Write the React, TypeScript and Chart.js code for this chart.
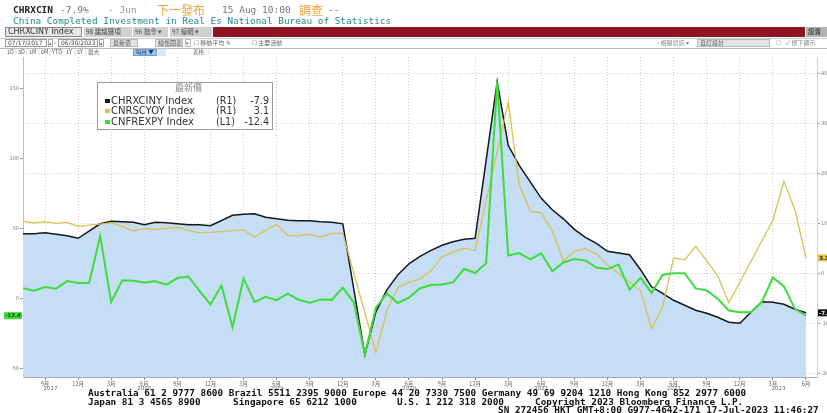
import React, { useEffect, useRef } from 'react';
import { Chart, registerables } from 'chart.js';
Chart.register(...registerables);

// Monthly categories, Jul 2017 .. Jun 2023
const months = [
  '2017-07','2017-08','2017-09','2017-10','2017-11','2017-12',
  '2018-01','2018-02','2018-03','2018-04','2018-05','2018-06','2018-07','2018-08','2018-09','2018-10','2018-11','2018-12',
  '2019-01','2019-02','2019-03','2019-04','2019-05','2019-06','2019-07','2019-08','2019-09','2019-10','2019-11','2019-12',
  '2020-01','2020-02','2020-03','2020-04','2020-05','2020-06','2020-07','2020-08','2020-09','2020-10','2020-11','2020-12',
  '2021-01','2021-02','2021-03','2021-04','2021-05','2021-06','2021-07','2021-08','2021-09','2021-10','2021-11','2021-12',
  '2022-01','2022-02','2022-03','2022-04','2022-05','2022-06','2022-07','2022-08','2022-09','2022-10','2022-11','2022-12',
  '2023-01','2023-02','2023-03','2023-04','2023-05','2023-06',
];

// CHRXCINY Index (R1) — completed investment in real estate, YoY %
const chrxciny: (number | null)[] = [
  7.9, 7.9, 8.1, 7.8, 7.5, 7.0,
  null, 9.9, 10.4, 10.3, 10.2, 9.7, 10.2, 10.1, 9.9, 9.7, 9.7, 9.5,
  null, 11.6, 11.8, 11.9, 11.2, 10.9, 10.6, 10.5, 10.5, 10.3, 10.2, 9.9,
  null, -16.3, -7.7, -3.3, -0.3, 1.9, 3.4, 4.6, 5.6, 6.3, 6.8, 7.0,
  null, 38.3, 25.6, 21.6, 18.3, 15.0, 12.7, 10.9, 8.8, 7.2, 6.0, 4.4,
  null, 3.7, 0.7, -2.7, -4.0, -5.4, -6.4, -7.4, -8.0, -8.8, -9.8, -10.0,
  null, -5.7, -5.8, -6.2, -7.2, -7.9,
];

// CNRSCYOY Index (R1) — retail sales YoY %
const cnrscyoy: (number | null)[] = [
  10.4, 10.1, 10.3, 10.0, 10.2, 9.4,
  null, null, 10.1, 9.4, 8.5, 9.0, 8.8, 9.0, 9.2, 8.6, 8.1, 8.2,
  null, null, 8.7, 7.2, 8.6, 9.8, 7.6, 7.5, 7.8, 7.2, 8.0, 8.0,
  null, null, -15.8, -7.5, -2.8, -1.8, -1.1, 0.5, 3.3, 4.3, 5.0, 4.6,
  null, null, 34.2, 17.7, 12.4, 12.1, 8.5, 2.5, 4.4, 4.9, 3.9, 1.7,
  null, null, -3.5, -11.1, -6.7, 3.1, 2.7, 5.4, 2.5, -0.5, -5.9, -1.8,
  null, null, 10.6, 18.4, 12.7, 3.1,
];

// CNFREXPY Index (L1) — exports YoY %
const cnfrexpy: (number | null)[] = [
  7.2, 5.5, 8.1, 6.9, 12.3, 10.9,
  11.1, 44.5, -2.7, 12.9, 12.6, 11.3, 12.2, 9.8, 14.5, 15.6, 5.4, -4.4,
  9.1, -20.7, 14.2, -2.7, 1.1, -1.3, 3.3, -1.0, -3.2, -0.9, -1.1, 7.6,
  -3.0, -40.0, -6.6, 3.5, -3.3, 0.5, 7.2, 9.5, 9.9, 11.4, 21.1, 18.1,
  25.0, 154.9, 30.6, 32.3, 27.9, 32.2, 19.3, 25.6, 28.1, 27.1, 22.0, 20.9,
  24.1, 6.2, 14.7, 3.9, 16.9, 17.9, 18.0, 7.1, 5.7, -0.3, -8.7, -9.9,
  -10.0, -2.5, 14.8, 8.5, -7.5, -12.4,
];

const leftTicks = [-50, 0, 50, 100, 150];
const rightTicks = [-20, -10, 0, 10, 20, 30, 40];
const quarterNames: Record<string, string> = { '03': '3月', '06': '6月', '09': '9月', '12': '12月' };

const legendRows = [
  { name: 'CHRXCINY Index', axis: '(R1)', last: '-7.9', color: '#15171f' },
  { name: 'CNRSCYOY Index', axis: '(R1)', last: '3.1', color: '#d9c052' },
  { name: 'CNFREXPY Index', axis: '(L1)', last: '-12.4', color: '#3ddc3d' },
];

const MONO = '"DejaVu Sans Mono", "Liberation Mono", monospace';
const SANS = '"DejaVu Sans", "Noto Sans CJK TC", sans-serif';
const CJK = '"Noto Sans CJK TC", "Noto Sans CJK SC", sans-serif';

const toPoints = (arr: (number | null)[]) =>
  arr.map((v, i) => (v == null ? null : { x: i, y: v })).filter((p) => p !== null) as { x: number; y: number }[];

const lastVal = (arr: (number | null)[]) => {
  for (let i = arr.length - 1; i >= 0; i--) if (arr[i] != null) return arr[i] as number;
  return 0;
};

const T = ({ x, y, s = 9.5, c = '#000', f = MONO, st = {}, children }: any) => (
  <span
    style={{
      position: 'absolute', left: x, top: y - s * 0.6, fontSize: s, lineHeight: `${s * 1.2}px`,
      color: c, fontFamily: f, whiteSpace: 'pre', ...st,
    }}
  >
    {children}
  </span>
);

const B = ({ x, y, w, h, bg = 'transparent', bd = 'none', c = '#333', s = 7, f = CJK, children, st = {} }: any) => (
  <div
    style={{
      position: 'absolute', left: x, top: y, width: w, height: h, background: bg,
      border: bd, boxSizing: 'border-box', fontSize: s, lineHeight: `${h - 2}px`, color: c,
      fontFamily: f, whiteSpace: 'pre', overflow: 'hidden', paddingLeft: 2, ...st,
    }}
  >
    {children}
  </div>
);

export default function App() {
  const ref = useRef<HTMLCanvasElement | null>(null);

  useEffect(() => {
    if (!ref.current) return;
    const quarterIdx = months.map((m, i) => (quarterNames[m.slice(5)] ? i : -1)).filter((i) => i >= 0);

    const overlay = {
      id: 'overlay',
      afterDraw(chart: any) {
        const { ctx, scales } = chart;
        const xs = scales.x, yl = scales.yL, yr = scales.yR;
        ctx.save();
        // year labels
        ctx.font = '5.5px "DejaVu Sans", sans-serif';
        ctx.fillStyle = '#666';
        ctx.textAlign = 'center';
        ctx.textBaseline = 'middle';
        const years = Array.from(new Set(months.map((m) => m.slice(0, 4))));
        years.forEach((yr0) => {
          const idx = months.map((m, i) => (m.startsWith(yr0) ? i : -1)).filter((i) => i >= 0);
          const first = idx[0], last = idx[idx.length - 1];
          const pos = idx.length === 12 ? first + 5 : (first + last) / 2;
          ctx.fillText(yr0, xs.getPixelForValue(pos), 389);
        });
        // last value tags
        const tag = (text: string, x0: number, x1: number, y: number, bg: string, fg: string) => {
          ctx.fillStyle = bg;
          ctx.fillRect(x0, y - 3.5, x1 - x0, 7);
          ctx.fillStyle = fg;
          ctx.font = 'bold 5.5px "DejaVu Sans", sans-serif';
          ctx.textAlign = 'center';
          ctx.fillText(text, (x0 + x1) / 2, y + 0.3);
        };
        const g = lastVal(cnfrexpy), yv = lastVal(cnrscyoy), b = lastVal(chrxciny);
        tag(g.toFixed(1), 4, 22, yl.getPixelForValue(g), '#3ddc3d', '#0a4a0a');
        tag(yv.toFixed(1), 818, 830, yr.getPixelForValue(yv), '#e2c440', '#332800');
        tag(b.toFixed(1), 818, 832, yr.getPixelForValue(b), '#111', '#fff');
        ctx.restore();
      },
    };

    const chart = new Chart(ref.current, {
      type: 'line',
      data: {
        datasets: [
          {
            label: 'CNFREXPY Index', data: toPoints(cnfrexpy), yAxisID: 'yL',
            borderColor: '#3ddc3d', borderWidth: 2, pointRadius: 0, fill: false, tension: 0,
          },
          {
            label: 'CNRSCYOY Index', data: toPoints(cnrscyoy), yAxisID: 'yR',
            borderColor: '#d9c052', borderWidth: 1.3, pointRadius: 0, fill: false, tension: 0,
          },
          {
            label: 'CHRXCINY Index', data: toPoints(chrxciny), yAxisID: 'yR',
            borderColor: '#15171f', borderWidth: 1.5, pointRadius: 0, tension: 0,
            fill: 'start', backgroundColor: '#c6def5',
          },
        ],
      },
      options: {
        animation: false,
        responsive: false,
        devicePixelRatio: 1,
        layout: { padding: { top: 57, left: 0, right: 0, bottom: 0 } },
        plugins: { legend: { display: false }, tooltip: { enabled: false } },
        scales: {
          x: {
            type: 'linear', min: 0, max: 72, position: 'bottom',
            afterFit: (s: any) => { s.height = 36; s.paddingLeft = 0; s.paddingRight = 0; },
            afterBuildTicks: (s: any) => { s.ticks = quarterIdx.map((v) => ({ value: v })); },
            ticks: {
              autoSkip: false, maxRotation: 0, padding: 1, color: '#666',
              font: { size: 5.5, family: '"Noto Sans CJK SC", sans-serif' },
              callback: (v: any) => quarterNames[months[Math.round(v)]?.slice(5) || ''] || '',
            },
            grid: { color: '#c9c9c9', drawTicks: true, tickLength: 3, tickColor: '#888', tickBorderDash: [] },
            border: { display: true, color: '#aaa', dash: [1, 2] },
          },
          yL: {
            type: 'linear', position: 'left', min: -56.2, max: 172.4,
            afterFit: (s: any) => { s.width = 23; s.paddingTop = 0; s.paddingBottom = 0; },
            afterBuildTicks: (s: any) => { s.ticks = leftTicks.map((v) => ({ value: v })); },
            ticks: { padding: 1, color: '#777', font: { size: 5, family: '"DejaVu Sans", sans-serif' } },
            grid: { drawOnChartArea: false, drawTicks: true, tickLength: 3, tickColor: '#999' },
            border: { display: true, color: '#86e486', width: 1 },
          },
          yR: {
            type: 'linear', position: 'right', min: -20.74, max: 43.26,
            afterFit: (s: any) => { s.width = 10; s.paddingTop = 0; s.paddingBottom = 0; },
            afterBuildTicks: (s: any) => { s.ticks = rightTicks.map((v) => ({ value: v })); },
            ticks: { padding: 1, color: '#777', font: { size: 5, family: '"DejaVu Sans", sans-serif' } },
            grid: { color: '#cdcdcd', drawTicks: true, tickLength: 3, tickColor: '#999', tickBorderDash: [] },
            border: { display: true, color: '#e4d488', width: 1, dash: [1, 2] },
          },
        },
      } as any,
      plugins: [overlay],
    });
    return () => chart.destroy();
  }, []);

  const tabs = ['1D', '3D', '1M', '6M', 'YTD', '1Y', '5Y', '最大'];
  const tabX = [7, 18, 29, 41, 52, 66, 77, 88];
  const FS = 9.35;
  const footSt = { fontWeight: 'bold' };

  return (
    <div style={{ position: 'absolute', left: 0, top: 0, width: 827, height: 413, background: '#fff', overflow: 'hidden' }}>
      <canvas ref={ref} width={827} height={413} style={{ position: 'absolute', left: 0, top: 0, width: 827, height: 413 }} />

      {/* header line 1 */}
      <T x={13} y={10} c="#222" st={{ fontWeight: 'bold' }}>CHRXCIN</T>
      <T x={60} y={10} c="#777">-7.9%</T>
      <T x={108} y={10} c="#999">- Jun</T>
      <T x={157} y={10} s={12} c="#f2a33a" f={CJK}>下一發布</T>
      <T x={222} y={10} c="#777">15 Aug 10:00</T>
      <T x={299} y={10} s={12} c="#f2a33a" f={CJK}>調查</T>
      <T x={328} y={10} c="#777">--</T>
      {/* header line 2 */}
      <T x={13} y={21} s={9.4} c="#1f8a9a">China Completed Investment in Real Es National Bureau of Statistics</T>

      {/* toolbar row */}
      <B x={5} y={27} w={77} h={10} bg="#e6e6e6" bd="1px solid #888" s={8} f={SANS} c="#333">CHRXCINY Index</B>
      <B x={84} y={27} w={48} h={10} bg="#d0d0d0" s={6.5} c="#444">98 建議選項</B>
      <B x={133} y={27} w={35} h={10} bg="#d0d0d0" s={6.5} c="#555">96 指令 ▾</B>
      <B x={170} y={27} w={42} h={10} bg="#d0d0d0" s={6.5} c="#555">97 編輯 ▾</B>
      <div style={{ position: 'absolute', left: 213, top: 27, width: 592, height: 10, background: '#8e1521' }} />
      <B x={806} y={27} w={21} h={10} bg="#b3b3b3" s={6.5} c="#222">設置</B>

      {/* date row */}
      <div style={{ position: 'absolute', left: 0, top: 37.5, width: 827, height: 0, borderTop: '1px solid #ccc' }} />
      <B x={5} y={39} w={42} h={8} bd="1px solid #999" s={6} f={SANS} c="#444">07/17/2017</B>
      <B x={48} y={39} w={5} h={8} bd="1px solid #aaa" s={5} c="#666" st={{ paddingLeft: 0 }}>▴</B>
      <T x={54} y={43} s={7} c="#555" f={SANS}>-</T>
      <B x={58} y={39} w={40} h={8} bd="1px solid #999" s={6} f={SANS} c="#444">06/30/2023</B>
      <B x={99} y={39} w={5} h={8} bd="1px solid #aaa" s={5} c="#666" st={{ paddingLeft: 0 }}>▴</B>
      <B x={110} y={39} w={28} h={8} bg="#e3e3e3" bd="1px solid #bbb" s={6} c="#555">最新值</B>
      <B x={155} y={39} w={28} h={8} bg="#e3e3e3" bd="1px solid #bbb" s={6} c="#555">線性圖表</B>
      <B x={185} y={39} w={6} h={8} bd="1px solid #bbb" s={5} c="#666" st={{ paddingLeft: 0 }}>▾</B>
      <T x={194} y={43} s={6} c="#666" f={CJK}>☐ 移動平均 ✎</T>
      <T x={252} y={43} s={6} c="#666" f={CJK}>☐ 主要活動</T>
      <T x={657} y={43} s={6} c="#888" f={CJK}>- 相關資訊 ▾</T>
      <B x={697} y={39} w={73} h={8} bg="#e3e3e3" bd="1px solid #bbb" s={6} c="#666">自訂設計</B>
      <T x={776} y={43} s={6} c="#888" f={CJK}>☐</T>
      <T x={786} y={43} s={6} c="#888" f={CJK}>✓ 按下顯示</T>
      <div style={{ position: 'absolute', left: 0, top: 48, width: 827, height: 0, borderTop: '1px solid #bbb' }} />

      {/* tabs row */}
      {tabs.map((t, i) => (
        <T key={t} x={tabX[i]} y={52.5} s={5.5} c="#555" f={CJK}>{t}</T>
      ))}
      {[15, 26, 38, 49, 62, 74, 85, 98].map((x) => (
        <T key={x} x={x} y={52.5} s={5.5} c="#bbb" f={SANS}>|</T>
      ))}
      <B x={133} y={49} w={24} h={7} bg="#9ec4ea" bd="1px solid #6d9bd0" s={5.5} c="#1b3d7a">每月 ▼</B>
      <div style={{ position: 'absolute', left: 158, top: 49, width: 8, height: 7, background: '#d9e7f5' }} />
      <T x={193} y={52.5} s={5.5} c="#666" f={CJK}>表格</T>
      <T x={208} y={52.5} s={5.5} c="#bbb" f={SANS}>|</T>

      {/* legend box */}
      <div style={{ position: 'absolute', left: 97, top: 81.5, width: 176, height: 48.5, background: '#fff', border: '1px solid #9a9a9a', boxSizing: 'border-box' }} />
      <T x={175} y={88} s={9} c="#8a8a8a" f={CJK}>最新價</T>
      {legendRows.map((r, i) => {
        const cy = 100.5 + i * 10.5;
        return (
          <React.Fragment key={r.name}>
            <div style={{ position: 'absolute', left: 105, top: cy - 2, width: 5, height: 4, background: r.color }} />
            <T x={111} y={cy} s={10} c="#333" f={SANS}>{r.name}</T>
            <T x={216} y={cy} s={9.6} c="#333" f={SANS}>{r.axis}</T>
            <span style={{ position: 'absolute', right: 827 - 269, top: cy - 9.6 * 0.6, fontSize: 9.6, lineHeight: `${9.6 * 1.2}px`, color: '#333', fontFamily: SANS, whiteSpace: 'pre' }}>{r.last}</span>
          </React.Fragment>
        );
      })}

      {/* footer */}
      <T x={88} y={393} s={FS} c="#111" st={footSt}>Australia 61 2 9777 8600 Brazil 5511 2395 9000 Europe 44 20 7330 7500 Germany 49 69 9204 1210 Hong Kong 852 2977 6000</T>
      <T x={88} y={401.5} s={FS} c="#111" st={footSt}>Japan 81 3 4565 8900</T>
      <T x={233} y={401.5} s={FS} c="#111" st={footSt}>Singapore 65 6212 1000</T>
      <T x={397} y={401.5} s={FS} c="#111" st={footSt}>U.S. 1 212 318 2000</T>
      <T x={535} y={401.5} s={FS} c="#111" st={footSt}>Copyright 2023 Bloomberg Finance L.P.</T>
      <T x={498} y={409.5} s={FS} c="#111" st={footSt}>SN 272456 HKT GMT+8:00 G977-4642-171 17-Jul-2023 11:46:27</T>
    </div>
  );
}
